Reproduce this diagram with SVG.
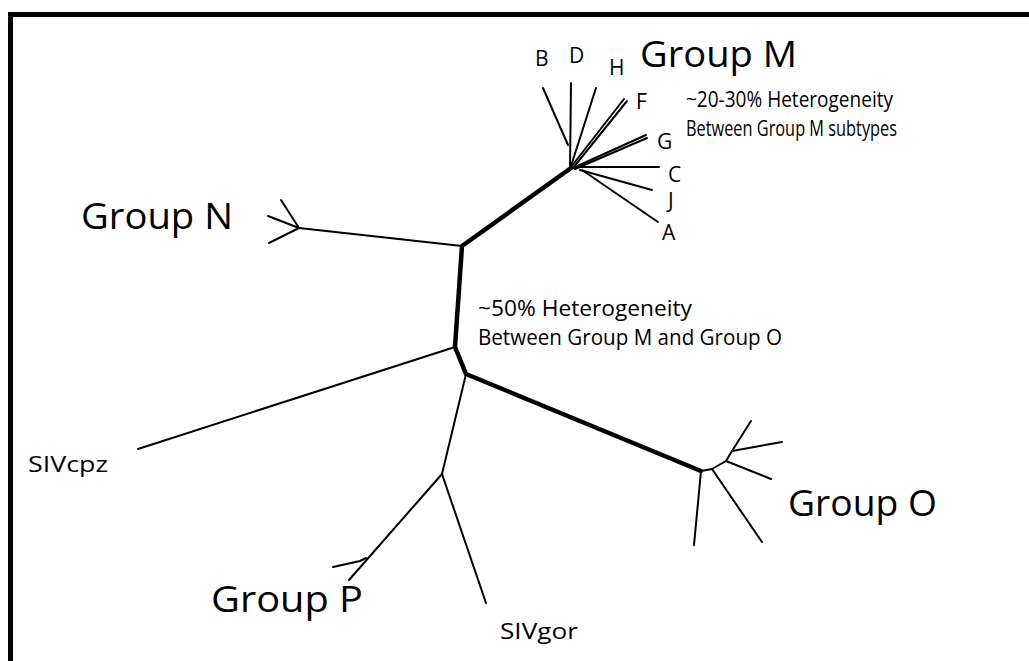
<svg xmlns="http://www.w3.org/2000/svg" width="1029" height="661" viewBox="0 0 1029 661">
<style>
.thin{stroke:#000;stroke-width:2;fill:none;stroke-linecap:round;stroke-linejoin:round}
.thick{stroke:#000;stroke-width:4.5;fill:none;stroke-linecap:round;stroke-linejoin:round}
text{font-family:"Open Sans","Liberation Sans",sans-serif;fill:#000}
.big{font-size:37px}
.mid{font-size:21px}
.let{font-size:21px}
</style>
<rect x="10.5" y="14.5" width="1040" height="680" fill="#fff" stroke="#000" stroke-width="5"/>
<g id="connectors">
  <polyline class="thick" points="571,168 462,246 455,347 466,374 701,471"/>
  <line class="thin" x1="462" y1="246" x2="299" y2="228"/>
  <line class="thin" x1="299" y1="228" x2="281" y2="200"/>
  <line class="thin" x1="299" y1="228" x2="268" y2="216"/>
  <line class="thin" x1="299" y1="228" x2="269" y2="243"/>
  <line class="thin" x1="455" y1="347" x2="138" y2="449"/>
  <line class="thin" x1="466" y1="374" x2="442" y2="474"/>
  <line class="thin" x1="442" y1="474" x2="486" y2="603"/>
  <line class="thin" x1="442" y1="474" x2="349" y2="580"/>
  <polyline class="thin" points="333,567 360,561 366,558"/>
  <line class="thin" x1="701" y1="471" x2="694" y2="545"/>
  <polyline class="thin" points="701,471 712,469 726,461"/>
  <line class="thin" x1="712" y1="469" x2="762" y2="542"/>
  <line class="thin" x1="726" y1="461" x2="771" y2="479"/>
  <line class="thin" x1="726" y1="461" x2="732" y2="451"/>
  <line class="thin" x1="732" y1="451" x2="751" y2="421"/>
  <line class="thin" x1="732" y1="451" x2="782" y2="442"/>
  <line class="thin" x1="568" y1="145" x2="543" y2="88"/>
  <line class="thin" x1="570" y1="168" x2="571" y2="83"/>
  <line class="thin" x1="571" y1="166" x2="596" y2="88"/>
  <line class="thin" x1="571" y1="167" x2="624" y2="99"/>
  <line class="thin" x1="573" y1="168" x2="627" y2="101"/>
  <line class="thin" x1="573" y1="168" x2="646" y2="135"/>
  <line class="thin" x1="575" y1="169" x2="647" y2="138"/>
  <line class="thin" x1="575" y1="167" x2="659" y2="167"/>
  <line class="thin" x1="580" y1="170" x2="652" y2="190"/>
  <line class="thin" x1="582" y1="170" x2="658" y2="222"/>
</g>
<g id="group-m">
  <text class="big" x="640" y="67" textLength="157" lengthAdjust="spacingAndGlyphs">Group M</text>
  <text class="let" x="535" y="66">B</text>
  <text class="let" x="569" y="63">D</text>
  <text class="let" x="609" y="75">H</text>
  <text class="let" x="636" y="109">F</text>
  <text class="let" x="657" y="149">G</text>
  <text class="let" x="668" y="182">C</text>
  <text class="let" x="668" y="208">J</text>
  <text class="let" x="662" y="240">A</text>
  <text class="mid" x="686" y="107" textLength="207" lengthAdjust="spacingAndGlyphs">~20-30% Heterogeneity</text>
  <text class="mid" x="686" y="136" textLength="211" lengthAdjust="spacingAndGlyphs">Between Group M subtypes</text>
</g>
<g id="group-n">
  <text class="big" x="81" y="229" textLength="152" lengthAdjust="spacingAndGlyphs">Group N</text>
</g>
<g id="heterogeneity-mo">
  <text class="mid" x="478" y="316" textLength="214" lengthAdjust="spacingAndGlyphs">~50% Heterogeneity</text>
  <text class="mid" x="478" y="345" textLength="304" lengthAdjust="spacingAndGlyphs">Between Group M and Group O</text>
</g>
<g id="sivcpz">
  <text class="mid" x="28" y="472" textLength="80" lengthAdjust="spacingAndGlyphs">SIVcpz</text>
</g>
<g id="group-o">
  <text class="big" x="788" y="516" textLength="149" lengthAdjust="spacingAndGlyphs">Group O</text>
</g>
<g id="group-p">
  <text class="big" x="211" y="612" textLength="152" lengthAdjust="spacingAndGlyphs">Group P</text>
</g>
<g id="sivgor">
  <text class="mid" x="500" y="639" textLength="78" lengthAdjust="spacingAndGlyphs">SIVgor</text>
</g>
</svg>
